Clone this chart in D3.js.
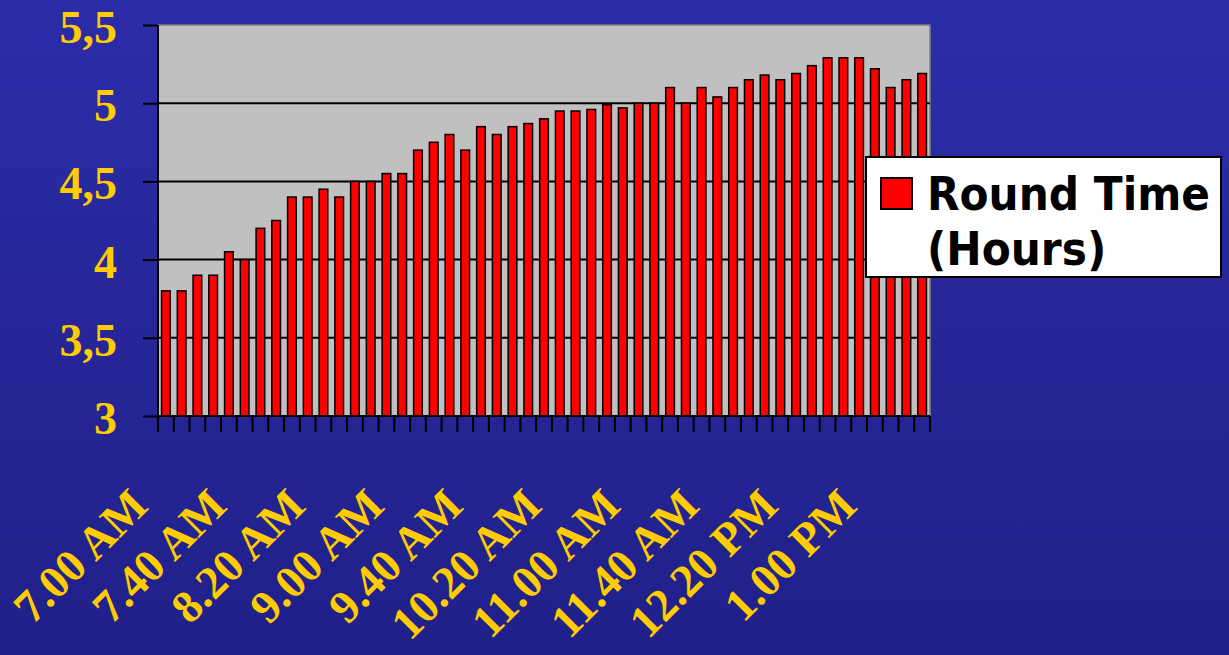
<!DOCTYPE html>
<html>
<head>
<meta charset="utf-8">
<script src="https://cdn.jsdelivr.net/npm/d3@7"></script>
<style>
    html, body { margin: 0; padding: 0; overflow: hidden; }
    body { width: 1229px; height: 655px; }
</style>
</head>
<body>
<svg id="chart"></svg>
<script>
// Category times (8 minute steps) and round time in hours
const times = [
    "7.00", "7.08", "7.16", "7.24", "7.32", "7.40", "7.48", "7.56",
    "8.04", "8.12", "8.20", "8.28", "8.36", "8.44", "8.52",
    "9.00", "9.08", "9.16", "9.24", "9.32", "9.40", "9.48", "9.56",
    "10.04", "10.12", "10.20", "10.28", "10.36", "10.44", "10.52",
    "11.00", "11.08", "11.16", "11.24", "11.32", "11.40", "11.48", "11.56",
    "12.04", "12.12", "12.20", "12.28", "12.36", "12.44", "12.52",
    "1.00", "1.08", "1.16", "1.24"
];
const roundTime = [
    3.8, 3.8, 3.9, 3.9, 4.05, 4.0, 4.2, 4.25,
    4.4, 4.4, 4.45, 4.4, 4.5, 4.5, 4.55,
    4.55, 4.7, 4.75, 4.8, 4.7, 4.85, 4.8, 4.85,
    4.87, 4.9, 4.95, 4.95, 4.96, 4.99, 4.97,
    5.0, 5.0, 5.1, 5.0, 5.1, 5.04, 5.1, 5.15,
    5.18, 5.15, 5.19, 5.24, 5.29, 5.29, 5.29,
    5.22, 5.1, 5.15, 5.19
];
// Labelled categories on the x axis
const xTickTimes = ["7.00", "7.40", "8.20", "9.00", "9.40", "10.20", "11.00", "11.40", "12.20", "1.00"];
const xTickLabels = ["7.00 AM", "7.40 AM", "8.20 AM", "9.00 AM", "9.40 AM", "10.20 AM", "11.00 AM", "11.40 AM", "12.20 PM", "1.00 PM"];
const yTicks = [3, 3.5, 4, 4.5, 5, 5.5];
const yTickLabels = ["3", "3,5", "4", "4,5", "5", "5,5"];
const seriesName = ["Round Time", "(Hours)"];

const svgWidth = 1229;
const svgHeight = 655;
const plot = { left: 158, right: 930, top: 25, bottom: 416 };
const serif = "'Liberation Serif', 'Times New Roman', serif";
const gold = "#ffcc00";

const svg = d3.select("#chart")
    .attr("width", svgWidth)
    .attr("height", svgHeight);

// Blue slide background
const grad = svg.append("defs").append("linearGradient")
    .attr("id", "bg")
    .attr("x1", 0).attr("y1", 0).attr("x2", 0).attr("y2", 1);
grad.append("stop").attr("offset", "0%").attr("stop-color", "#2c2ca8");
grad.append("stop").attr("offset", "100%").attr("stop-color", "#20208a");
svg.append("rect")
    .attr("width", svgWidth)
    .attr("height", svgHeight)
    .attr("fill", "url(#bg)");

// Scales
const x = d3.scaleBand()
    .domain(times)
    .range([plot.left, plot.right])
    .paddingInner(0.45)
    .paddingOuter(0.225);

const y = d3.scaleLinear()
    .domain([3, 5.5])
    .range([plot.bottom, plot.top]);

// Plot area
svg.append("rect")
    .attr("x", plot.left)
    .attr("y", plot.top)
    .attr("width", plot.right - plot.left)
    .attr("height", plot.bottom - plot.top)
    .attr("fill", "#c0c0c0")
    .attr("stroke", "#808080")
    .attr("stroke-width", 1.5);

// Gridlines
svg.append("g")
    .selectAll("line")
    .data(yTicks.slice(1, -1))
    .enter()
    .append("line")
    .attr("x1", plot.left)
    .attr("x2", plot.right)
    .attr("y1", d => y(d))
    .attr("y2", d => y(d))
    .attr("stroke", "#000")
    .attr("stroke-width", 2);

// Bars
svg.append("g")
    .selectAll("rect")
    .data(times)
    .enter()
    .append("rect")
    .attr("x", d => x(d))
    .attr("y", (d, i) => y(roundTime[i]))
    .attr("width", x.bandwidth())
    .attr("height", (d, i) => y(3) - y(roundTime[i]))
    .attr("fill", "#ff0000")
    .attr("stroke", "#000")
    .attr("stroke-width", 1.5);

// Y axis
const yAxis = svg.append("g")
    .attr("transform", `translate(${plot.left}, 0)`)
    .call(d3.axisLeft(y)
        .tickValues(yTicks)
        .tickSize(15)
        .tickPadding(26)
        .tickFormat((d, i) => yTickLabels[i]));
yAxis.select(".domain").remove();
yAxis.selectAll("line").attr("stroke", "#000").attr("stroke-width", 2);
yAxis.selectAll("text")
    .attr("fill", gold)
    .attr("font-family", serif)
    .attr("font-weight", "bold")
    .attr("font-size", "46px")
    .attr("dy", "0.38em");

// Axis lines
svg.append("line")
    .attr("x1", plot.left).attr("x2", plot.left)
    .attr("y1", plot.top).attr("y2", plot.bottom + 16)
    .attr("stroke", "#000").attr("stroke-width", 2);
svg.append("line")
    .attr("x1", plot.left).attr("x2", plot.right)
    .attr("y1", plot.bottom).attr("y2", plot.bottom)
    .attr("stroke", "#000").attr("stroke-width", 2);

// Category tick marks between the bars
const step = x.step();
svg.append("g")
    .selectAll("line")
    .data(times.concat([null]))
    .enter()
    .append("line")
    .attr("x1", (d, i) => d ? x(d) - step * 0.225 : plot.right)
    .attr("x2", (d, i) => d ? x(d) - step * 0.225 : plot.right)
    .attr("y1", plot.bottom)
    .attr("y2", plot.bottom + 16)
    .attr("stroke", "#000")
    .attr("stroke-width", 2);

// Rotated x labels
svg.append("g")
    .selectAll("text")
    .data(xTickTimes)
    .enter()
    .append("text")
    .attr("transform", d => `translate(${x(d) + x.bandwidth() / 2 - 16}, 508) rotate(-45)`)
    .attr("text-anchor", "end")
    .attr("fill", gold)
    .attr("font-family", serif)
    .attr("font-weight", "bold")
    .attr("font-size", "46px")
    .text((d, i) => xTickLabels[i]);

// Legend
const legend = svg.append("g");
legend.append("rect")
    .attr("x", 866).attr("y", 157)
    .attr("width", 355).attr("height", 120)
    .attr("fill", "#fff")
    .attr("stroke", "#000")
    .attr("stroke-width", 2);
legend.append("rect")
    .attr("x", 881).attr("y", 178)
    .attr("width", 31).attr("height", 31)
    .attr("fill", "#ff0000")
    .attr("stroke", "#000")
    .attr("stroke-width", 2);
legend.selectAll("text.name")
    .data(seriesName)
    .enter()
    .append("text")
    .attr("class", "name")
    .attr("x", 927)
    .attr("y", (d, i) => 210 + i * 55)
    .attr("fill", "#000")
    .attr("font-family", "'DejaVu Sans Condensed', 'DejaVu Sans', sans-serif")
    .attr("font-stretch", "condensed")
    .attr("font-weight", "bold")
    .attr("font-size", "47px")
    .text(d => d);
</script>
</body>
</html>
